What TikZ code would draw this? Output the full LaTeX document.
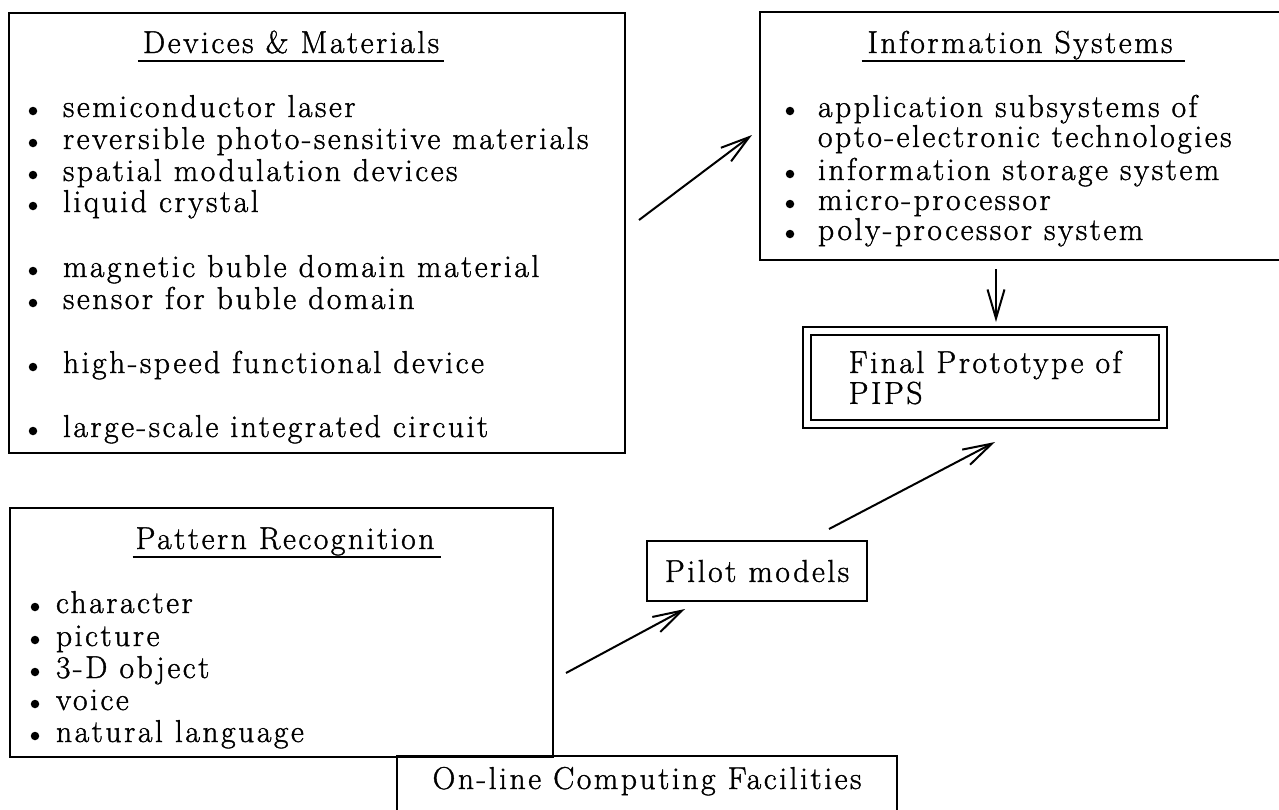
\documentclass[tikz,border=0pt]{standalone}
\usepackage{fontspec}
\newfontfamily\boxfont{Latin Modern Roman}[LetterSpace=8, FakeBold=1.2]
\usetikzlibrary{calc,arrows.meta}

\begin{document}
\begin{tikzpicture}[x=0.2mm, y=-0.2mm, line width=0.4mm,
    box/.style={rectangle, draw, inner sep=0},
    txt/.style={inner sep=0, font=\boxfont\fontsize{18pt}{17.6pt}\selectfont},
    item/.style={txt, anchor=base west},
    head/.style={txt, anchor=base},
    arr/.style={-{Straight Barb[length=5.8mm, width=3.4mm]}}]
    \useasboundingbox (0,0) rectangle (1279,809);

    \node[box, minimum width=123.2mm, minimum height=88mm] (dev) at (317,233) {};
    \node[box, minimum width=110mm, minimum height=49.6mm] (info) at (1035,136) {};
    \node[box, txt, double, double distance=1.2mm, align=left, minimum width=71.2mm, minimum height=18.6mm] (final) at (985,377.5) {Final Prototype of\\PIPS};
    \node[box, txt, minimum width=44mm, minimum height=12mm] (pilot) at (757,571) {Pilot models};
    \node[box, minimum width=108.6mm, minimum height=49.8mm] (patt) at (281.5,632.5) {};
    \node[box, minimum width=100mm, minimum height=16.8mm] (online) at (647,798) {};

    \node[head] (devt) at (291,53) {Devices \& Materials};
    \draw ($(devt.base west)+(-4,8)$) -- ($(devt.base east)+(4,8)$);
    \foreach \y/\t [count=\i] in {117/semiconductor laser, 149/reversible photo-sensitive materials, 181/spatial modulation devices, 212/liquid crystal, 277/magnetic buble domain material, 309/sensor for buble domain, 373/high-speed functional device, 437/large-scale integrated circuit}{
        \fill (33,\y-6) circle (0.85mm);
        \node[item] (devi\i) at (62,\y) {\t};
    }

    \node[head] (infot) at (1020,53) {Information Systems};
    \draw ($(infot.base west)+(-5,8)$) -- ($(infot.base east)+(12,8)$);
    \foreach \y/\t [count=\i] in {117/application subsystems of, 180/information storage system, 210/micro-processor, 240/poly-processor system}{
        \fill (790,\y-6) circle (0.85mm);
        \node[item] (infoi\i) at (817,\y) {\t};
    }
    \node[item] (infoi5) at (817,147) {opto-electronic technologies};

    \node[head] (pattt) at (285,549) {Pattern Recognition};
    \draw ($(pattt.base west)+(-2,8)$) -- ($(pattt.base east)+(6,8)$);
    \foreach \y/\t [count=\i] in {613/character, 646/picture, 678/3-D object, 710/voice, 742/natural language}{
        \fill (35,\y-6) circle (0.85mm);
        \node[item] (patti\i) at (55,\y) {\t};
    }

    \node[head] (onlinet) at ($(online.north)+(0,34)$) {On-line Computing Facilities};

    \draw[arr] ($(dev.east)+(13,-13)$) -- ($(info.west)+(-7,-1)$);
    \draw[arr] ($(info.south -| final.north)+(11,8)$) -- ($(final.north)+(11,-8)$);
    \draw[arr] ($(pilot.north east)+(-39,-11)$) -- ($(final.south)+(10,17)$);
    \draw[arr] ($(patt.east)+(12,40.5)$) -- ($(pilot.south west)+(39,7)$);
\end{tikzpicture}
\end{document}
